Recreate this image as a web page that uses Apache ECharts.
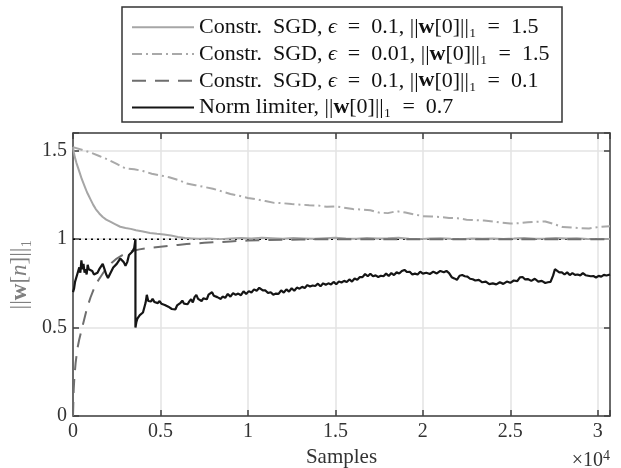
<!DOCTYPE html>
<html>
<head>
<meta charset="utf-8">
<script src="https://cdn.jsdelivr.net/npm/echarts@6.0.0/dist/echarts.min.js"></script>
<style>html,body{margin:0;padding:0;background:#fff;}#c{width:621px;height:468px;}</style>
</head>
<body>
<div id="c"></div>
<script>
const xTicks = [0, 0.5, 1, 1.5, 2, 2.5, 3];
const yTicks = [0, 0.5, 1, 1.5];
const seriesNames = [
  'Constr. SGD, ϵ = 0.1, ||w[0]||₁ = 1.5',
  'Constr. SGD, ϵ = 0.01, ||w[0]||₁ = 1.5',
  'Constr. SGD, ϵ = 0.1, ||w[0]||₁ = 0.1',
  'Norm limiter, ||w[0]||₁ = 0.7'
];
const referenceLevel = [[0, 1], [3.07, 1]];

const sgdFast = [[0,1.52],[0.005,1.49],[0.01,1.465],[0.02,1.43],[0.03,1.40],[0.04,1.37],[0.05,1.34],[0.06,1.315],[0.07,1.29],[0.08,1.265],[0.09,1.245],[0.10,1.225],[0.115,1.195],[0.13,1.17],[0.15,1.145],[0.17,1.125],[0.19,1.11],[0.21,1.10],[0.24,1.085],[0.27,1.07],[0.30,1.063],[0.33,1.058],[0.36,1.05],[0.40,1.043],[0.44,1.035],[0.48,1.03],[0.52,1.026],[0.56,1.02],[0.60,1.012],[0.64,1.006],[0.68,1.004],[0.72,1.002],[0.78,1.003],[0.84,1.0],[0.90,1.004],[0.96,1.006],[1.02,1.003],[1.08,1.008],[1.14,1.005],[1.2,1.002],[1.26,1.006],[1.32,1.004],[1.38,1.002],[1.44,1.005],[1.5,1.008],[1.56,1.004],[1.62,1.002],[1.68,1.006],[1.74,1.003],[1.8,1.005],[1.86,1.008],[1.92,1.002],[1.98,1.0],[2.04,1.003],[2.1,1.005],[2.16,1.002],[2.22,1.0],[2.28,1.003],[2.34,1.002],[2.4,1.004],[2.46,1.001],[2.52,1.003],[2.58,1.006],[2.64,1.002],[2.7,1.004],[2.76,1.007],[2.82,1.003],[2.88,1.005],[2.94,1.001],[3.0,1.0],[3.07,1.001]];

const sgdSlow = [[0,1.52],[0.05,1.505],[0.1,1.49],[0.15,1.47],[0.2,1.45],[0.25,1.425],[0.3,1.40],[0.35,1.395],[0.4,1.385],[0.45,1.37],[0.5,1.36],[0.55,1.35],[0.6,1.335],[0.65,1.315],[0.7,1.305],[0.75,1.295],[0.8,1.285],[0.85,1.27],[0.9,1.255],[0.95,1.245],[1.0,1.233],[1.05,1.225],[1.1,1.215],[1.15,1.205],[1.2,1.203],[1.25,1.198],[1.3,1.195],[1.35,1.192],[1.4,1.19],[1.45,1.183],[1.5,1.185],[1.55,1.178],[1.6,1.17],[1.65,1.167],[1.7,1.163],[1.75,1.15],[1.8,1.147],[1.85,1.158],[1.9,1.15],[1.95,1.14],[2.0,1.13],[2.05,1.128],[2.1,1.125],[2.15,1.12],[2.2,1.118],[2.25,1.11],[2.3,1.107],[2.35,1.105],[2.4,1.10],[2.45,1.093],[2.5,1.088],[2.55,1.09],[2.6,1.095],[2.65,1.098],[2.7,1.10],[2.75,1.085],[2.8,1.068],[2.85,1.066],[2.9,1.062],[2.95,1.06],[3.0,1.068],[3.07,1.073]];

const sgdLowInit = [[0,0.0],[0.004,0.15],[0.008,0.22],[0.015,0.30],[0.025,0.38],[0.035,0.43],[0.045,0.47],[0.06,0.53],[0.075,0.59],[0.09,0.64],[0.10,0.67],[0.12,0.72],[0.14,0.76],[0.16,0.79],[0.18,0.82],[0.20,0.845],[0.22,0.865],[0.25,0.89],[0.28,0.908],[0.31,0.922],[0.34,0.933],[0.38,0.942],[0.42,0.948],[0.46,0.953],[0.50,0.957],[0.55,0.962],[0.60,0.967],[0.65,0.972],[0.70,0.976],[0.75,0.979],[0.80,0.982],[0.85,0.984],[0.90,0.987],[0.95,0.99],[1.0,0.992],[1.1,0.995],[1.2,0.996],[1.3,0.998],[1.4,0.999],[1.6,1.0],[1.8,0.999],[2.0,1.0],[2.2,0.999],[2.4,1.0],[2.6,0.999],[2.8,1.0],[3.07,1.0]];

const normLimiter = [[0,0.70],[0.006,0.72],[0.012,0.76],[0.018,0.75],[0.024,0.80],[0.03,0.79],[0.036,0.84],[0.042,0.81],[0.048,0.88],[0.054,0.83],[0.06,0.86],[0.066,0.81],[0.072,0.83],[0.078,0.80],[0.084,0.855],[0.09,0.83],[0.10,0.84],[0.11,0.82],[0.12,0.80],[0.13,0.79],[0.14,0.81],[0.15,0.83],[0.16,0.84],[0.17,0.86],[0.18,0.83],[0.19,0.80],[0.20,0.78],[0.21,0.80],[0.22,0.82],[0.23,0.84],[0.24,0.83],[0.25,0.86],[0.26,0.87],[0.27,0.89],[0.28,0.88],[0.29,0.87],[0.30,0.85],[0.31,0.87],[0.32,0.91],[0.33,0.90],[0.34,0.93],[0.35,0.95],[0.357,1.0],[0.357,0.50],
[0.362,0.53],[0.368,0.55],[0.375,0.545],[0.382,0.57],[0.39,0.565],[0.40,0.585],[0.408,0.59],[0.415,0.64],[0.422,0.685],[0.43,0.65],[0.438,0.66],[0.446,0.648],[0.455,0.662],[0.465,0.645],[0.475,0.652],[0.485,0.638],[0.495,0.65],[0.505,0.635],[0.515,0.645],[0.525,0.628],[0.535,0.635],[0.545,0.618],[0.555,0.625],[0.565,0.605],[0.575,0.612],[0.585,0.602],[0.595,0.625],[0.605,0.618],[0.615,0.64],[0.625,0.652],[0.635,0.635],[0.645,0.645],[0.655,0.632],[0.665,0.648],[0.675,0.66],[0.685,0.642],[0.695,0.672],[0.705,0.685],[0.715,0.662],[0.725,0.668],[0.735,0.65],[0.745,0.665],[0.755,0.675],[0.765,0.66],[0.775,0.686],[0.785,0.678],[0.795,0.70],[0.805,0.68],[0.815,0.69],[0.825,0.672],[0.835,0.678],[0.845,0.662],[0.855,0.675],[0.87,0.668],[0.885,0.69],[0.9,0.675],[0.915,0.695],[0.93,0.685],[0.945,0.692],[0.96,0.683],[0.975,0.705],[0.99,0.69],[1.005,0.706],[1.02,0.698],[1.035,0.716],[1.05,0.708],[1.065,0.725],[1.075,0.732],[1.085,0.71],[1.10,0.71],[1.115,0.695],[1.13,0.70],[1.145,0.686],[1.16,0.692],[1.175,0.69],[1.19,0.71],[1.205,0.698],[1.22,0.716],[1.235,0.703],[1.25,0.722],[1.265,0.708],[1.28,0.726],[1.295,0.72],[1.31,0.73],[1.325,0.724],[1.34,0.74],[1.355,0.732],[1.37,0.738],[1.385,0.735],[1.40,0.748],[1.415,0.733],[1.43,0.75],[1.445,0.742],[1.46,0.75],[1.475,0.744],[1.49,0.758],[1.505,0.745],[1.52,0.76],[1.535,0.755],[1.55,0.764],[1.565,0.758],[1.58,0.772],[1.595,0.76],[1.61,0.777],[1.625,0.77],[1.64,0.786],[1.655,0.785],[1.67,0.803],[1.685,0.79],[1.70,0.804],[1.715,0.79],[1.73,0.795],[1.745,0.786],[1.76,0.793],[1.775,0.79],[1.79,0.805],[1.805,0.792],[1.82,0.808],[1.835,0.797],[1.85,0.812],[1.865,0.806],[1.88,0.82],[1.895,0.826],[1.91,0.814],[1.925,0.815],[1.94,0.8],[1.955,0.805],[1.97,0.8],[1.985,0.816],[2.0,0.805],[2.02,0.81],[2.04,0.803],[2.06,0.816],[2.08,0.806],[2.10,0.82],[2.12,0.813],[2.135,0.82],[2.15,0.808],[2.165,0.785],[2.18,0.778],[2.195,0.77],[2.21,0.793],[2.225,0.797],[2.24,0.79],[2.255,0.788],[2.27,0.776],[2.285,0.773],[2.30,0.766],[2.32,0.77],[2.34,0.756],[2.36,0.76],[2.38,0.746],[2.40,0.75],[2.42,0.744],[2.44,0.756],[2.46,0.747],[2.48,0.76],[2.50,0.753],[2.52,0.766],[2.54,0.763],[2.555,0.784],[2.57,0.786],[2.585,0.772],[2.60,0.774],[2.62,0.764],[2.64,0.776],[2.66,0.76],[2.68,0.764],[2.70,0.752],[2.715,0.756],[2.73,0.758],[2.745,0.795],[2.755,0.83],[2.765,0.826],[2.78,0.812],[2.795,0.812],[2.81,0.8],[2.825,0.812],[2.84,0.797],[2.855,0.808],[2.87,0.798],[2.885,0.8],[2.90,0.795],[2.915,0.808],[2.93,0.796],[2.945,0.793],[2.96,0.79],[2.975,0.791],[2.99,0.783],[3.005,0.792],[3.02,0.788],[3.035,0.798],[3.05,0.794],[3.07,0.80]];

const FONT = "'Liberation Serif', 'DejaVu Serif', serif";
const X_MAX = 3.07, Y_MAX = 1.6;
const chart = echarts.init(document.getElementById('c'), null, {renderer: 'canvas'});

function tickFmt(list) {
  return v => list.some(t => Math.abs(t - v) < 1e-9) ? String(v) : '';
}
function richName(name) {
  let s = name
    .replace('Constr. ', 'Constr.  ')
    .replace(/ = /g, '\u2002=\u2002')
    .replace(/ϵ/g, '}{i|ϵ}{t|')
    .replace(/w/g, '}{b|w}{t|');
  return '{t|' + s + '}';
}
const axisLineStyle = {color: '#404040', width: 1.5};
const baseX = {
  type: 'value', min: 0, max: X_MAX, interval: 0.5,
  axisLine: {show: true, onZero: false, lineStyle: axisLineStyle},
  axisTick: {show: true, inside: true, length: 6, lineStyle: axisLineStyle}
};
const baseY = {
  type: 'value', min: 0, max: Y_MAX, interval: 0.5,
  axisLine: {show: true, onZero: false, lineStyle: axisLineStyle},
  axisTick: {show: true, inside: true, length: 6, lineStyle: axisLineStyle}
};
const LS = 26.7, LF = 22, TC = '#111';

chart.setOption({
  animation: false,
  backgroundColor: '#fff',
  grid: {left: 73, right: 11, top: 133, bottom: 52, containLabel: false, outerBoundsMode: 'none'},
  graphic: [
    {type: 'rect', shape: {x: 122, y: 7, width: 440, height: 115},
     style: {fill: '#fff', stroke: '#333', lineWidth: 1.5}, z: 0},
    {type: 'text', right: 11, top: 449,
     style: {text: '×10{s|4}', fill: '#333', font: '20px ' + FONT,
       rich: {s: {fontSize: 14, fontFamily: FONT, verticalAlign: 'top', padding: [0,0,10,0], fill: '#333'}}}}
  ],
  legend: {
    data: seriesNames,
    orient: 'vertical', left: 122, top: 7,
    padding: [7, 8, 4, 9],
    itemWidth: 62, itemHeight: 12, itemGap: 0,
    backgroundColor: 'transparent', borderWidth: 0,
    itemStyle: {opacity: 0},
    formatter: richName,
    textStyle: {
      fontFamily: FONT, fontSize: LF, color: TC, lineHeight: LS,
      rich: {
        t: {fontFamily: FONT, fontSize: LF, color: TC, lineHeight: LS},
        i: {fontFamily: FONT, fontSize: LF, color: TC, lineHeight: LS, fontStyle: 'italic'},
        b: {fontFamily: FONT, fontSize: LF, color: TC, fontWeight: 'bold', lineHeight: LS}
      }
    }
  },
  xAxis: [
    Object.assign({}, baseX, {
      position: 'bottom',
      name: 'Samples', nameLocation: 'middle', nameGap: 30,
      nameTextStyle: {fontFamily: FONT, fontSize: 21, color: '#333'},
      axisLabel: {formatter: tickFmt(xTicks), fontFamily: FONT, fontSize: 20, color: '#333', margin: 6},
      splitLine: {show: true, lineStyle: {color: '#e3e3e3', width: 1.5}}
    }),
    Object.assign({}, baseX, {
      position: 'top', axisLabel: {show: false}, splitLine: {show: false}
    })
  ],
  yAxis: [
    Object.assign({}, baseY, {
      position: 'left',
      name: '||{b|w}[{i|n}]||₁', nameLocation: 'middle', nameGap: 30, nameRotate: 90,
      nameTextStyle: {fontFamily: FONT, fontSize: 23, color: '#808080',
        rich: {b: {fontFamily: FONT, fontSize: 23, fontWeight: 'bold', color: '#808080'},
               i: {fontFamily: FONT, fontSize: 23, fontStyle: 'italic', color: '#808080'}}},
      axisLabel: {formatter: tickFmt(yTicks), fontFamily: FONT, fontSize: 20, color: '#333', margin: 6},
      splitLine: {show: true, lineStyle: {color: '#e3e3e3', width: 1.5}}
    }),
    Object.assign({}, baseY, {
      position: 'right', axisLabel: {show: false}, splitLine: {show: false}
    })
  ],
  series: [
    {name: 'ref', type: 'line', data: referenceLevel, symbol: 'none', silent: true,
     lineStyle: {color: '#000', width: 1.5, type: [2, 4]}},
    {name: seriesNames[1], type: 'line', data: sgdSlow, symbol: 'none',
     lineStyle: {color: '#a9a9a9', width: 2, type: [10, 4, 2, 4]}, itemStyle: {color: '#a9a9a9'}},
    {name: seriesNames[0], type: 'line', data: sgdFast, symbol: 'none',
     lineStyle: {color: '#a6a6a6', width: 2}, itemStyle: {color: '#a6a6a6'}},
    {name: seriesNames[2], type: 'line', data: sgdLowInit, symbol: 'none',
     lineStyle: {color: '#6e6e6e', width: 2, type: [14, 9]}, itemStyle: {color: '#6e6e6e'}},
    {name: seriesNames[3], type: 'line', data: normLimiter, symbol: 'none',
     lineStyle: {color: '#151515', width: 2.2}, itemStyle: {color: '#151515'}}
  ]
});
</script>
</body>
</html>
